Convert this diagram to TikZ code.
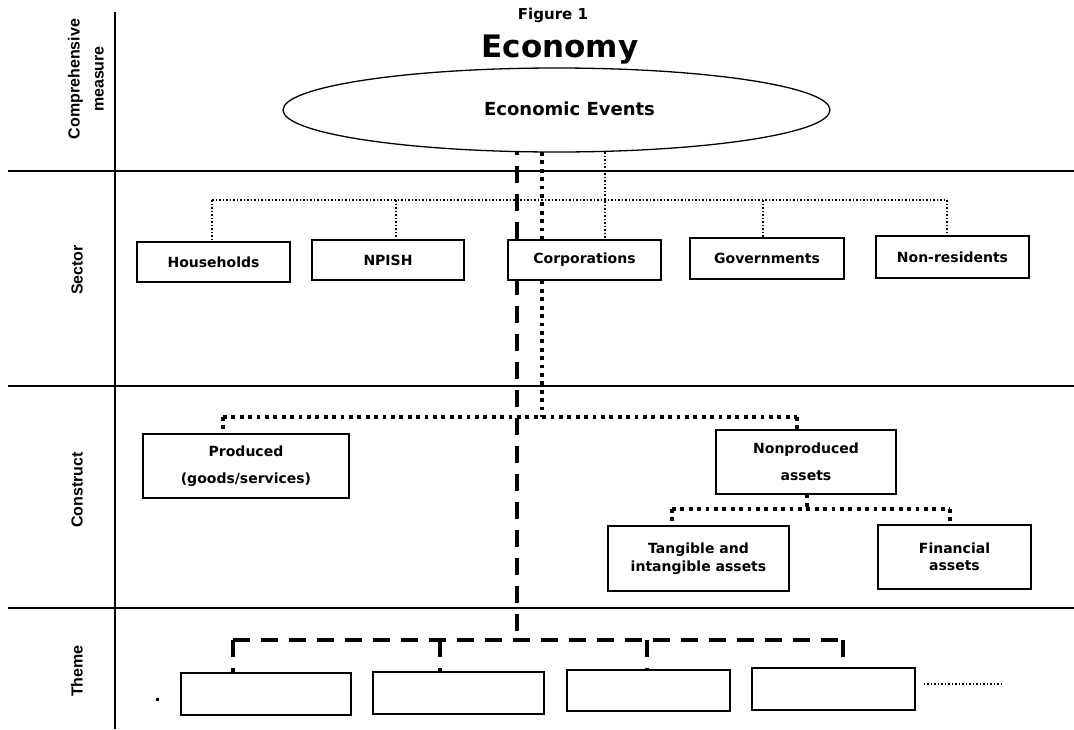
\documentclass[tikz,border=0pt]{standalone}
\usepackage{fontspec}
\usetikzlibrary{shapes.geometric}
\newfontfamily\dvb{DejaVu Sans}
\newfontfamily\lsb{Liberation Sans}
\pgfdeclarelayer{bg}
\pgfdeclarelayer{paper}
\pgfsetlayers{paper,bg,main}
\begin{document}
\begin{tikzpicture}[x=1pt,y=-1pt,
  rule/.style={line width=1.6pt},
  sdot/.style={line width=1.6pt,dash pattern=on 1.6pt off 1.9pt},
  cdot/.style={line width=3.6pt,dash pattern=on 3.8pt off 4.6pt},
  tdash/.style={line width=3.2pt,dash pattern=on 17pt off 11pt},
  box/.style={draw,fill=white,line width=1.3pt,inner sep=0pt,align=center,
    font=\dvb\bfseries\fontsize{14}{17}\selectfont},
  side/.style={rotate=90,align=center,font=\lsb\bfseries\fontsize{16}{24}\selectfont}
]
\useasboundingbox (0,0) rectangle (1074,729);
\begin{pgfonlayer}{paper}
\fill[white] (0,0) rectangle (1074,729);
\end{pgfonlayer}

% titles
\node[anchor=base,font=\dvb\bfseries\fontsize{15}{18}\selectfont] (fig) at (553,19) {Figure 1};
\node[anchor=base,font=\dvb\bfseries\fontsize{31}{36}\selectfont] (eco) at (560,57) {Economy};

% ellipse
\node[ellipse,draw,fill=white,line width=1.3pt,minimum width=547pt,minimum height=84pt,inner sep=0pt,
  font=\dvb\bfseries\fontsize{18}{21}\selectfont] (ell) at (556.5,110) {\raisebox{3.5pt}{\hspace*{26pt}Economic Events}};

% side labels
\node[side] (lcomp) at (86,79) {Comprehensive\\measure};
\node[side] (lsec) at (77,270) {Sector};
\node[side] (lcon) at (77,490) {Construct};
\node[side] (lthe) at (77,671) {Theme};

% sector boxes
\node[box,minimum width=153pt,minimum height=40pt] (hh) at (213.5,262) {Households};
\node[box,minimum width=152pt,minimum height=40pt] (np) at (388,260) {NPISH};
\node[box,minimum width=153pt,minimum height=40pt] (co) at (584.5,260) {Corporations};
\node[box,minimum width=154pt,minimum height=41pt] (gv) at (767,258.5) {Governments};
\node[box,minimum width=153pt,minimum height=42pt] (nr) at (952.5,257) {Non-residents};

% construct boxes
\node[box,minimum width=206pt,minimum height=64pt,font=\dvb\bfseries\fontsize{14}{27}\selectfont] (pr) at (246,466) {Produced\\(goods/services)};
\node[box,minimum width=180pt,minimum height=64pt,font=\dvb\bfseries\fontsize{14}{27}\selectfont] (nonp) at (806,462) {Nonproduced\\assets};
\node[box,minimum width=181pt,minimum height=65pt,font=\dvb\bfseries\fontsize{14}{17.5}\selectfont] (tan) at (698.5,558.5) {Tangible and\\intangible assets};
\node[box,minimum width=153pt,minimum height=64pt,font=\dvb\bfseries\fontsize{14}{17.5}\selectfont] (fin) at (954.5,557) {Financial\\assets};

% theme boxes
\node[box,minimum width=170pt,minimum height=42pt] (t1) at (266,694) {};
\node[box,minimum width=171pt,minimum height=42pt] (t2) at (458.5,693) {};
\node[box,minimum width=163pt,minimum height=41pt] (t3) at (648.5,690.5) {};
\node[box,minimum width=163pt,minimum height=42pt] (t4) at (833.5,689) {};

% junction coordinates
\coordinate (sL) at (212,200);
\coordinate (sN) at (396,200);
\coordinate (sC) at (605,200);
\coordinate (sG) at (763,200);
\coordinate (sR) at (947,200);
\coordinate (cM) at (542,417);
\coordinate (cL) at (223,417);
\coordinate (cR) at (797,417);
\coordinate (nM) at (807,509);
\coordinate (nL) at (672,509);
\coordinate (nR) at (950,509);
\coordinate (tM) at (517,640);
\coordinate (tA) at (233,640);
\coordinate (tB) at (440,640);
\coordinate (tC) at (647,640);
\coordinate (tD) at (843,640);
\coordinate (tend) at (1004,684);

\begin{pgfonlayer}{bg}
% rules
\draw[rule] (115,12) -- (115,729);
\draw[rule] (8,171) -- (1074,171);
\draw[rule] (8,386) -- (1074,386);
\draw[rule] (8,608) -- (1074,608);
% sector tree
\draw[sdot] (ell.center -| sC) -- (sC |- co.north);
\draw[sdot] (sL) -- (sR);
\draw[sdot] (sL) -- (sL |- hh.north);
\draw[sdot] (sN) -- (sN |- np.north);
\draw[sdot] (sG) -- (sG |- gv.north);
\draw[sdot] (sR) -- (sR |- nr.north);
% construct tree
\draw[cdot] (ell.center -| cM) -- (cM |- co.north);
\draw[cdot] (cM |- co.south) -- (cM);
\draw[cdot] (cL) -- (cR);
\draw[cdot] (cL) -- (cL |- pr.north);
\draw[cdot] (cR) -- (cR |- nonp.north);
\draw[cdot] (nM |- nonp.south) -- (nM);
\draw[cdot] (nL) -- (nR);
\draw[cdot] (nL) -- (nL |- tan.north);
\draw[cdot] (nR) -- (nR |- fin.north);
% theme tree
\draw[tdash] (ell.center -| tM) -- (tM);
\draw[tdash] (tA) -- (tD);
\draw[tdash] (tA) -- (tA |- t1.north);
\draw[tdash] (tB) -- (tB |- t2.north);
\draw[tdash] (tC) -- (tC |- t3.north);
\draw[tdash] (tD) -- (tD |- t4.north);
\draw[sdot] ([xshift=8pt]t4.east |- tend) -- (tend);
\fill (155.5,697.5) rectangle (158.5,700.5);
\end{pgfonlayer}
\end{tikzpicture}
\end{document}
